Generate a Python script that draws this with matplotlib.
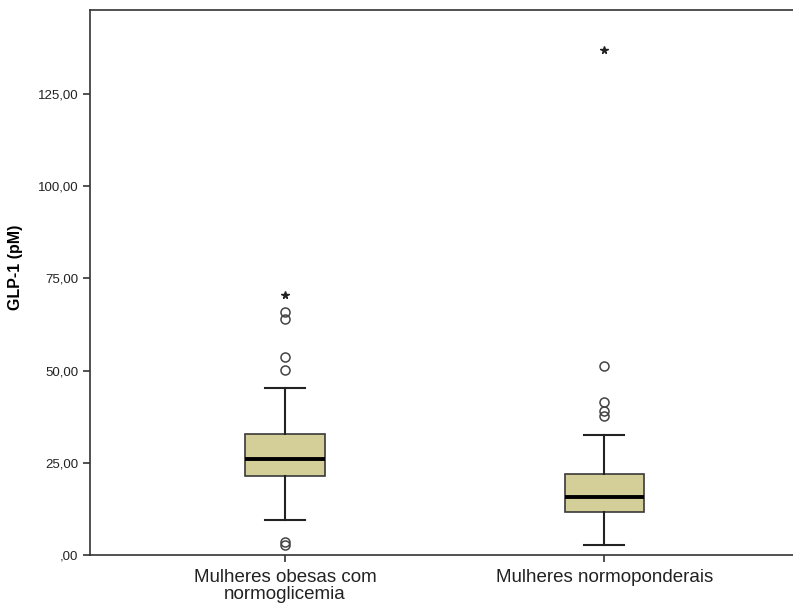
import matplotlib
matplotlib.use("Agg")
import matplotlib.pyplot as plt

plt.rcParams['font.family'] = ['Liberation Sans', 'DejaVu Sans']

# groups and box statistics
groups = ["Mulheres obesas com\nnormoglicemia", "Mulheres normoponderais"]
whisker_low = [9.5, 2.7]
q1 = [21.4, 11.7]
median = [26.0, 15.7]
q3 = [32.8, 22.0]
whisker_high = [45.3, 32.5]
# outliers (circles) and extremes (stars)
outliers = [[2.6, 3.6, 50.3, 53.7, 64.0, 65.8], [37.7, 39.0, 41.5, 51.2]]
extremes = [[70.5], [137.0]]

yticks = [0, 25, 50, 75, 100, 125]

fig = plt.figure(figsize=(7.93, 6.06), dpi=100)
ax = fig.add_axes([0.1135, 0.0842, 0.8865, 0.8993])

stats = []
for i in range(len(groups)):
    stats.append(dict(whislo=whisker_low[i], q1=q1[i], med=median[i], q3=q3[i],
                      whishi=whisker_high[i], fliers=outliers[i]))

pos = [1, 2]
ax.bxp(stats, positions=pos, widths=0.25, patch_artist=True,
       boxprops=dict(facecolor='#d4cf99', edgecolor='#3a3a3a', linewidth=1.2),
       medianprops=dict(color='black', linewidth=2.8),
       whiskerprops=dict(color='#222222', linewidth=1.5),
       capprops=dict(color='#222222', linewidth=1.5),
       capwidths=0.125,
       flierprops=dict(marker='o', markerfacecolor='none', markeredgecolor='#444444',
                       markersize=6.5, markeredgewidth=1.1))

for p, ext in zip(pos, extremes):
    ax.plot([p] * len(ext), ext, linestyle='none', marker='*', color='#222222',
            markersize=5.5)

ax.set_xlim(0.39, 2.59)
ax.set_ylim(0, 147.8)
ax.set_yticks(yticks)
ax.set_yticklabels([("%.2f" % v).replace('.', ',').lstrip('0') if v == 0 else
                    ("%.2f" % v).replace('.', ',') for v in yticks], fontsize=9.5)
ax.set_xticks(pos)
ax.set_xticklabels(groups, fontsize=13.5, linespacing=1.0)
ax.tick_params(axis='both', color='#333333', length=5, width=1.2, labelcolor='#222222')
ax.tick_params(axis='x', pad=5)
ax.set_ylabel("GLP-1 (pM)", fontsize=11.5, fontweight='bold')
ax.yaxis.set_label_coords(-0.095, 0.527)

for s in ax.spines.values():
    s.set_color('#333333')
    s.set_linewidth(1.2)
ax.spines['right'].set_visible(False)

fig.savefig("out.png", dpi=100)
